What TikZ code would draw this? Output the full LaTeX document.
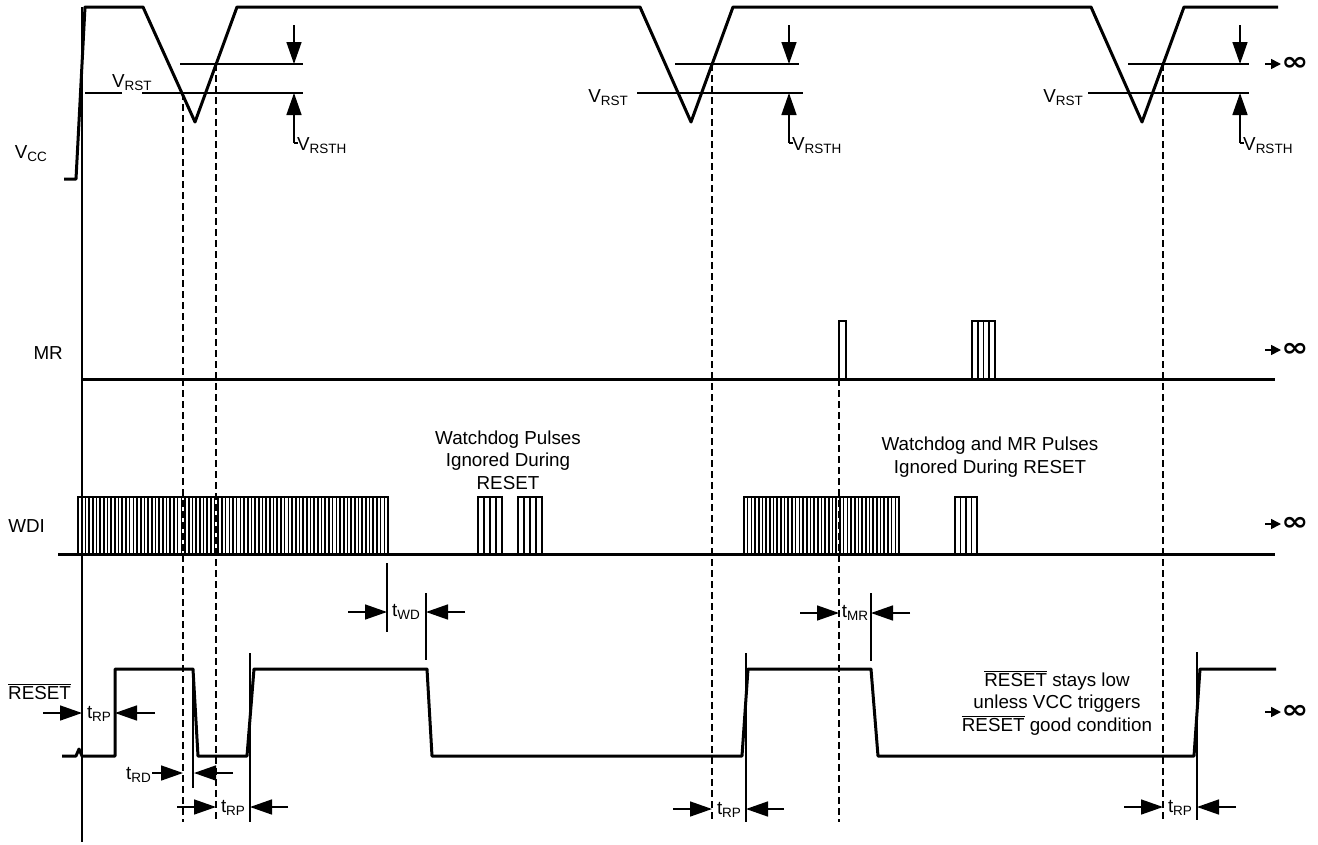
\documentclass[tikz,border=0pt]{standalone}
\usepackage{fontspec}
\setmainfont{Liberation Sans}
\newfontfamily\djv{DejaVu Sans}
\usetikzlibrary{arrows.meta}
\newcommand\sbs[1]{\raisebox{-3pt}{\fontsize{13.5}{13.5}\selectfont #1}}
\newcommand\ovl[1]{$\overline{\mbox{#1}}$}
\newcommand\pulsegrp[5]{%
  \draw[pulse] (#1,#5) -- (#1,#4) -- (#2,#4) -- (#2,#5);
  \pgfmathsetmacro\stp{(#2-#1)/#3}%
  \pgfmathtruncatemacro\nnn{#3-1}%
  \ifnum\nnn>0
  \foreach \i in {1,...,\nnn} \draw[stripe] ({#1+\i*\stp},#4) -- ({#1+\i*\stp},#5);%
  \fi
}
\begin{document}
\begin{tikzpicture}[x=1pt,y=-1pt,
  sig/.style={line width=3pt, line join=round},
  base/.style={line width=3pt},
  pulse/.style={line width=2.2pt, line join=miter},
  stripe/.style={line width=1.6pt},
  thinl/.style={line width=1.5pt},
  dsh/.style={line width=2pt, dash pattern=on 7pt off 4pt},
  dimarrow/.style={line width=1.5pt, -{Triangle[length=22pt,width=15pt]}},
  infarrow/.style={line width=1.6pt, -{Triangle[length=10pt,width=10pt]}},
  txt/.style={font=\fontsize{18.8}{22.5}\selectfont, inner sep=0pt},
  tl/.style={font=\fontsize{18.8}{22.5}\selectfont, inner sep=0pt},
  infn/.style={anchor=west, inner sep=0pt, xscale=1.25, font=\djv\bfseries\fontsize{26}{26}\selectfont},
]
\useasboundingbox (0,0) rectangle (1318,844);

% left reference line
\draw[thinl] (82,7) -- (82,842);

% ---------------- VCC ----------------
\node[txt, anchor=base east] (vcc) at (47,158) {V\sbs{CC}};
\draw[sig] (64,179) -- (76,179) -- (85,7) -- (143,7) -- (195,122) -- (237,7)
  -- (640,7) -- (691,122) -- (733,7) -- (1091,7) -- (1142,122) -- (1184,7) -- (1278,7);

% cycle 1 thresholds
\draw[thinl] (180,64) -- (303,64);
\draw[thinl] (85,93) -- (122,93);
\draw[thinl] (142,93) -- (303,93);
\node[txt, anchor=base west] (vrst1) at (112,87) {V\sbs{RST}};
\draw[dimarrow] (294,25) -- (294,64);
\draw[dimarrow] (294,143) -- (294,93);
\draw[thinl] (294,143) -- (298,143);
\node[txt, anchor=base west] (vrsth1) at (297,150) {V\sbs{RSTH}};

% cycle 2 thresholds
\draw[thinl] (675,64) -- (799,64);
\draw[thinl] (637,93) -- (803,93);
\node[txt, anchor=base east] (vrst2) at (628,102) {V\sbs{RST}};
\draw[dimarrow] (789,25) -- (789,64);
\draw[dimarrow] (789,143) -- (789,93);
\draw[thinl] (789,143) -- (793,143);
\node[txt, anchor=base west] (vrsth2) at (792,150) {V\sbs{RSTH}};

% cycle 3 thresholds
\draw[thinl] (1128,64) -- (1249,64);
\draw[thinl] (1088,93) -- (1249,93);
\node[txt, anchor=base east] (vrst3) at (1083,102) {V\sbs{RST}};
\draw[dimarrow] (1240,25) -- (1240,64);
\draw[dimarrow] (1240,143) -- (1240,93);
\draw[thinl] (1240,143) -- (1244,143);
\node[txt, anchor=base west] (vrsth3) at (1243,150) {V\sbs{RSTH}};

\draw[infarrow] (1265,64) -- (1281,64);
\node[infn] (inf1) at (1281,64) {∞};

% ---------------- MR ----------------
\node[txt, anchor=base east] (mr) at (63,359) {MR};
\draw[base] (82,379) -- (1275,379);
\pulsegrp{839}{846}{1}{321}{379}
\pulsegrp{972}{995}{4}{321}{379}
\draw[infarrow] (1265,350) -- (1281,350);
\node[infn] (inf2) at (1281,350) {∞};

% ---------------- WDI ----------------
\node[txt, anchor=base east] (wdi) at (45,532) {WDI};
\draw[base] (58,554) -- (1275,554);
\pulsegrp{78}{388}{84}{497}{554}
\pulsegrp{478}{502}{4}{497}{554}
\pulsegrp{518}{542}{4}{497}{554}
\pulsegrp{744}{899}{42}{497}{554}
\pulsegrp{955}{977}{4}{497}{554}
\node[txt, align=center] (note1) at (508,460) {Watchdog Pulses\\Ignored During\\RESET};
\node[txt, align=center] (note2) at (990,457) {Watchdog and MR Pulses\\Ignored During RESET};
\draw[infarrow] (1265,524) -- (1281,524);
\node[infn] (inf3) at (1281,524) {∞};

% ---------------- RESET ----------------
\node[txt, anchor=base west] (rst) at (8,699) {\ovl{RESET}};
\draw[sig] (62,756) -- (76,756) -- (79,749) -- (82,756) -- (115,756) -- (115,669)
  -- (193,669) -- (198,756) -- (247,756) -- (254,669) -- (427,669) -- (432,756)
  -- (742,756) -- (748,669) -- (871,669) -- (878,756) -- (1194,756) -- (1200,669) -- (1276,669);
\node[txt, align=center] (note3) at (1057,703) {\ovl{RESET} stays low\\unless VCC triggers\\\ovl{RESET} good condition};
\draw[infarrow] (1265,712) -- (1281,712);
\node[infn] (inf4) at (1281,712) {∞};

% dashed lines
\draw[dsh] (183,93) -- (183,822);
\draw[dsh] (216,64) -- (216,822);
\draw[dsh] (712,64) -- (712,822);
\draw[dsh] (1163,64) -- (1163,820);
\draw[dsh] (839,379) -- (839,822);

% thin reference verticals
\draw[thinl] (193,669) -- (193,788);
\draw[thinl] (250,653) -- (250,822);
\draw[thinl] (387,563) -- (387,632);
\draw[thinl] (426,593) -- (426,660);
\draw[thinl] (871,593) -- (871,661);
\draw[thinl] (746,653) -- (746,822);
\draw[thinl] (1197,652) -- (1197,820);

% t_RP (1)
\draw[dimarrow] (43,713) -- (82,713);
\draw[dimarrow] (155,713) -- (115,713);
\node[tl] (trp1) at (99,714) {t\sbs{RP}};
% t_RD
\node[tl, anchor=east] (trd) at (151,775) {t\sbs{RD}};
\draw[dimarrow] (152,773) -- (183,773);
\draw[dimarrow] (233,773) -- (194,773);
% t_RP (2)
\draw[dimarrow] (177,807) -- (216,807);
\draw[dimarrow] (288,807) -- (250,807);
\node[tl] (trp2) at (233,808) {t\sbs{RP}};
% t_WD
\draw[dimarrow] (348,612) -- (387,612);
\draw[dimarrow] (465,612) -- (426,612);
\node[tl] (twd) at (406,612) {t\sbs{WD}};
% t_MR
\draw[dimarrow] (800,613) -- (839,613);
\draw[dimarrow] (910,613) -- (871,613);
\node[tl] (tmr) at (855,613) {t\sbs{MR}};
% t_RP (3)
\draw[dimarrow] (673,809) -- (712,809);
\draw[dimarrow] (784,809) -- (746,809);
\node[tl] (trp3) at (729,810) {t\sbs{RP}};
% t_RP (4)
\draw[dimarrow] (1124,807) -- (1163,807);
\draw[dimarrow] (1236,807) -- (1197,807);
\node[tl] (trp4) at (1180,808) {t\sbs{RP}};
\end{tikzpicture}
\end{document}
